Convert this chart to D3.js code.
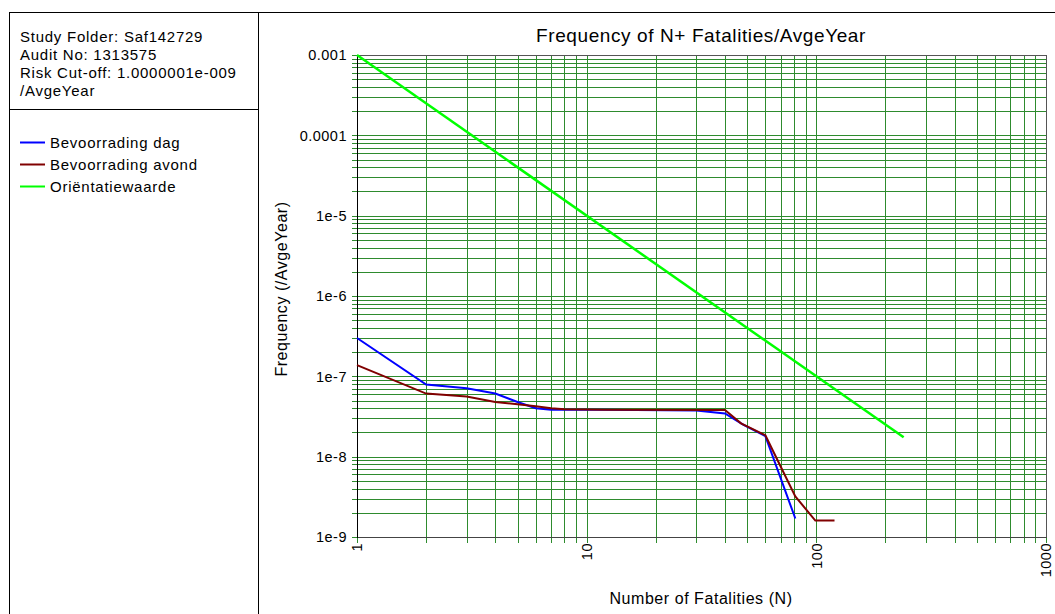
<!DOCTYPE html>
<html>
<head>
<meta charset="utf-8">
<script src="https://cdn.jsdelivr.net/npm/d3@7"></script>
<style>
body { margin: 0; background: #fff; font-family: Arial, "Liberation Sans", sans-serif; }
svg text { fill: #000; }
</style>
</head>
<body>
<div id="container"><svg></svg></div>
<script>
let width = 1055, height = 614;

// info block
let info_lines = ['Study Folder: Saf142729', 'Audit No: 1313575', 'Risk Cut-off: 1.0000001e-009', '/AvgeYear'];

// series names + colours
let series_names = ['Bevoorrading dag', 'Bevoorrading avond', 'Oriëntatiewaarde'];
let series_colors = ['#0000ff', '#800000', '#00ff00'];

// N values and frequencies
let dag_n = [1, 2, 3, 4, 5, 6, 7, 12, 30, 40, 48, 60, 81];
let dag_f = [3.0e-7, 7.9e-8, 7.1e-8, 6.1e-8, 4.8e-8, 4.0e-8, 3.85e-8, 3.85e-8, 3.75e-8, 3.45e-8, 2.5e-8, 1.8e-8, 1.7e-9];
let avond_n = [1, 2, 3, 4, 5, 6, 7, 8, 12, 40, 47, 60, 70, 81, 99, 120];
let avond_f = [1.38e-7, 6.1e-8, 5.6e-8, 4.8e-8, 4.5e-8, 4.25e-8, 4.0e-8, 3.9e-8, 3.85e-8, 3.8e-8, 2.6e-8, 1.85e-8, 7.5e-9, 3.2e-9, 1.6e-9, 1.6e-9];
let orient_n = [1, 240];
let orient_f = [1e-3, 1.74e-8];

// axis ticks
let x_ticks = [1, 10, 100, 1000];
let y_ticks = [1e-3, 1e-4, 1e-5, 1e-6, 1e-7, 1e-8, 1e-9];
let y_tick_labels = ['0.001', '0.0001', '1e-5', '1e-6', '1e-7', '1e-8', '1e-9'];

let plot_l = 357, plot_r = 1046, plot_t = 55, plot_b = 537;

function draw_frame(svg) {
    let g = svg.append('g').attr('shape-rendering', 'crispEdges');
    g.append('line').attr('x1', 9).attr('x2', width).attr('y1', 12.5).attr('y2', 12.5).attr('stroke', '#000');
    g.append('line').attr('x1', 9.5).attr('x2', 9.5).attr('y1', 12).attr('y2', height).attr('stroke', '#000');
    g.append('line').attr('x1', 258.5).attr('x2', 258.5).attr('y1', 12).attr('y2', height).attr('stroke', '#000');
    g.append('line').attr('x1', 9).attr('x2', 259).attr('y1', 109.5).attr('y2', 109.5).attr('stroke', '#000');

    svg.append('g').selectAll('text')
        .data(info_lines)
        .join('text')
        .attr('x', 20)
        .attr('y', (d, i) => 41.5 + i * 18)
        .attr('font-size', 15)
        .attr('letter-spacing', 0.75)
        .text(d => d);

    // legend
    let lg = svg.append('g').selectAll('g')
        .data(series_names)
        .join('g')
        .attr('transform', (d, i) => 'translate(0,' + (142.5 + i * 22) + ')');
    lg.append('line').attr('x1', 20).attr('x2', 45).attr('y1', 0).attr('y2', 0)
        .attr('stroke', (d, i) => series_colors[i]).attr('stroke-width', 2);
    lg.append('text').attr('x', 50).attr('y', 0).attr('dy', '0.36em')
        .attr('font-size', 15).attr('letter-spacing', 0.75).text(d => d);
}

function draw_chart(svg) {
    let x = d3.scaleLog().domain([1, 1000]).range([plot_l, plot_r]);
    let y = d3.scaleLog().domain([1e-9, 1e-3]).range([plot_b, plot_t]);

    // grid values 1..9 per decade
    let xs = [], ys = [];
    for (let d = 0; d < 3; d++) for (let k = 1; k <= 9; k++) xs.push(k * Math.pow(10, d));
    xs.push(1000);
    for (let d = -9; d < -3; d++) for (let k = 1; k <= 9; k++) ys.push(k * Math.pow(10, d));
    ys.push(1e-3);

    let grid = svg.append('g').attr('stroke', '#2e8b2e').attr('shape-rendering', 'crispEdges');
    grid.selectAll('.h').data(ys).join('line')
        .attr('x1', plot_l - 5).attr('x2', plot_r)
        .attr('y1', d => Math.round(y(d)) + 0.5).attr('y2', d => Math.round(y(d)) + 0.5);
    grid.selectAll('.v').data(xs).join('line')
        .attr('y1', plot_t).attr('y2', plot_b + 6)
        .attr('x1', d => Math.round(x(d)) + 0.5).attr('x2', d => Math.round(x(d)) + 0.5);

    // plot border
    let fr = svg.append('g').attr('shape-rendering', 'crispEdges');
    fr.append('line').attr('x1', plot_l).attr('x2', plot_r + 1).attr('y1', plot_t + 0.5).attr('y2', plot_t + 0.5).attr('stroke', '#555');
    fr.append('line').attr('x1', plot_r + 0.5).attr('x2', plot_r + 0.5).attr('y1', plot_t).attr('y2', plot_b + 1).attr('stroke', '#555');
    fr.append('line').attr('x1', plot_l).attr('x2', plot_r + 1).attr('y1', plot_b + 0.5).attr('y2', plot_b + 0.5).attr('stroke', '#444');
    fr.append('line').attr('x1', plot_l + 0.5).attr('x2', plot_l + 0.5).attr('y1', plot_t).attr('y2', plot_b + 1).attr('stroke', '#000');

    // series
    let line = d3.line().x(d => x(d[0])).y(d => y(d[1]));
    let data = [
        d3.zip(dag_n, dag_f),
        d3.zip(avond_n, avond_f),
        d3.zip(orient_n, orient_f)
    ];
    let widths = [2, 2, 2.5];
    svg.append('g').selectAll('path')
        .data([data[2], data[0], data[1]])
        .join('path')
        .attr('fill', 'none')
        .attr('stroke', (d, i) => series_colors[[2, 0, 1][i]])
        .attr('stroke-width', (d, i) => widths[[2, 0, 1][i]])
        .attr('d', line);

    // tick labels
    svg.append('g').selectAll('text')
        .data(y_ticks)
        .join('text')
        .attr('x', plot_l - 10)
        .attr('y', d => y(d))
        .attr('dy', '0.36em')
        .attr('text-anchor', 'end')
        .attr('font-size', 14.5)
        .attr('letter-spacing', 0.5)
        .text((d, i) => y_tick_labels[i]);

    svg.append('g').selectAll('text')
        .data(x_ticks)
        .join('text')
        .attr('transform', d => 'translate(' + x(d) + ',' + (plot_b + 6) + ') rotate(-90)')
        .attr('dy', '0.36em')
        .attr('text-anchor', 'end')
        .attr('font-size', 14.5)
        .attr('letter-spacing', 0.5)
        .text(d => d);

    // titles
    svg.append('text').attr('x', 701).attr('y', 42)
        .attr('text-anchor', 'middle').attr('font-size', 19)
        .attr('letter-spacing', 0.6)
        .text('Frequency of N+ Fatalities/AvgeYear');
    svg.append('text').attr('x', 701).attr('y', 604)
        .attr('text-anchor', 'middle').attr('font-size', 16)
        .attr('letter-spacing', 0.55)
        .text('Number of Fatalities (N)');
    svg.append('text').attr('transform', 'translate(281,289) rotate(-90)').attr('dy', '0.36em')
        .attr('text-anchor', 'middle').attr('font-size', 16)
        .attr('letter-spacing', 0.55)
        .text('Frequency (/AvgeYear)');
}

function main() {
    let svg = d3.select('#container').select('svg')
        .attr('width', width)
        .attr('height', height);
    draw_frame(svg);
    draw_chart(svg);
}

main();
</script>
</body>
</html>
